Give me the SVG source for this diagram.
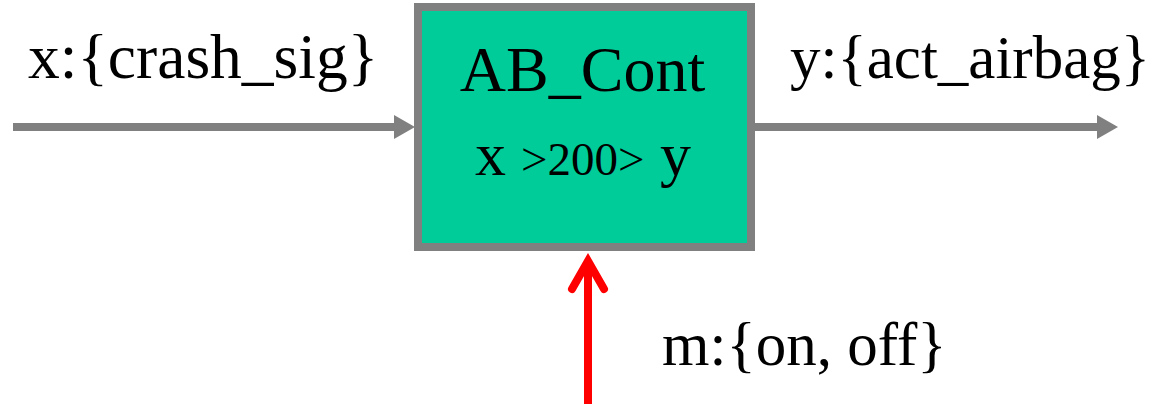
<svg xmlns="http://www.w3.org/2000/svg" width="1167" height="404" viewBox="0 0 1167 404">
<style>
text{font-family:"Liberation Serif","Times New Roman",serif;fill:#000}
.gline{stroke:#808080;stroke-width:8;fill:none}
</style>
<defs>
<marker id="gh" viewBox="0 0 21 24" refX="0" refY="12" markerWidth="21" markerHeight="24" markerUnits="userSpaceOnUse" orient="auto">
<path d="M0,0 L21,12 L0,24 Z" fill="#808080"/>
</marker>
</defs>
<g id="connectors">
<line class="gline" x1="13" y1="127" x2="394" y2="127" marker-end="url(#gh)"/>
<line class="gline" x1="755" y1="127" x2="1097" y2="127" marker-end="url(#gh)"/>
<line x1="588" y1="404" x2="588" y2="262" stroke="#ff0000" stroke-width="8"/>
<polyline points="572,289 588,261 604,289" fill="none" stroke="#ff0000" stroke-width="8" stroke-linecap="round" stroke-linejoin="miter"/>
</g>
<g id="AB_Cont">
<rect x="418" y="7" width="333" height="240" fill="#00cc99" stroke="#808080" stroke-width="8"/>
<text x="582.5" y="91" font-size="64" text-anchor="middle">AB_Cont</text>
<text y="175" font-size="62"><tspan x="475">x</tspan><tspan x="521" font-size="47">&gt;200&gt;</tspan><tspan x="660">y</tspan></text>
</g>
<g id="labels">
<text x="28" y="78" font-size="63.5">x:{crash_sig}</text>
<text x="790" y="78" font-size="61">y:{act_airbag}</text>
<text x="662" y="365" font-size="61">m:{on, off}</text>
</g>
</svg>
